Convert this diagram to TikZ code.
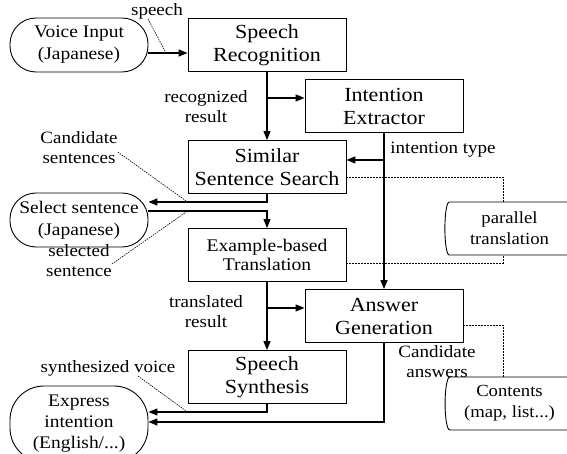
\documentclass[tikz,border=0pt]{standalone}
\usepackage{fontspec}
\setmainfont{Liberation Serif}[FakeStretch=1.1]
\usetikzlibrary{arrows.meta, positioning, shapes.geometric, calc}

\begin{document}
\begin{tikzpicture}[x=1pt, y=-1pt, node distance=1cm, on grid, >={Triangle[length=9pt,width=7pt]},
      proc/.style={draw, line width=0.9pt, minimum width=158pt, minimum height=53pt, inner sep=0pt,
        align=center, font=\fontsize{20}{23}\selectfont},
      term/.style={draw, line width=0.9pt, rounded corners=26pt, minimum width=138pt, minimum height=54pt,
        inner sep=0pt, align=center, font=\fontsize{17.7}{22}\selectfont},
      store/.style={draw, line width=0.9pt, cylinder, shape aspect=0.26, minimum width=53pt, minimum height=134pt,
        inner sep=0pt, align=center, font=\fontsize{17}{21}\selectfont},
      lbl/.style={align=center, inner sep=0pt, font=\fontsize{17.3}{20}\selectfont},
      flow/.style={->, line width=1.3pt},
      lead/.style={dash pattern=on 1.5pt off 1pt, line width=0.6pt},
      link/.style={dash pattern=on 2pt off 1pt, line width=0.7pt}]
      \useasboundingbox (0,0) rectangle (567,454);
      % main column
      \node[proc] (rec) at (267,45) {Speech\\Recognition};
      \node[proc] (ext) [below right=61pt and 117pt of rec] {Intention\\Extractor};
      \node[proc] (sim) [below=122pt of rec] {Similar\\Sentence Search};
      \node[proc, font=\fontsize{17.8}{19.5}\selectfont] (ebt) [below=88pt of sim] {Example-based\\Translation};
      \node[proc] (ans) [below right=61pt and 117pt of ebt] {Answer\\Generation};
      \node[proc] (syn) [below=122pt of ebt] {Speech\\Synthesis};
      % user side
      \node[term] (voice) [left=188pt of rec] {Voice Input\\(Japanese)};
      \node[term] (sel) at (79,220) {Select sentence\\(Japanese)};
      \node[term, rounded corners=34pt, minimum height=76pt, font=\fontsize{17.7}{21}\selectfont] (expr) at (79,424) {Express\\intention\\(English/...)};
      % data
      \node[store] (para) at (509.5,228.5) {parallel\\translation};
      \node[store] (cont) at (509.5,403.5) {Contents\\(map, list...)};
      % labels
      \node[lbl] (speechlbl) at (157,11) {speech};
      \node[lbl] (reclbl) at (206,107) {recognized\\result};
      \node[lbl] (intlbl) at (443,150) {intention type};
      \node[lbl] (candlbl) at (79,148) {Candidate\\sentences};
      \node[lbl] (sellbl) at (79,261) {selected\\sentence};
      \node[lbl] (trlbl) at (206,312) {translated\\result};
      \node[lbl] (synlbl) at (108,368) {synthesized voice};
      \node[lbl] (anslbl) at (437,362) {Candidate\\answers};

      \coordinate (sptap) at ($([yshift=-8pt]voice.east)!0.45!([yshift=-8pt]rec.west)$);
      \draw[flow] ([yshift=-8pt]voice.east) -- ([yshift=-8pt]rec.west);
      \draw[flow] (rec) -- (sim);
      \draw[flow] ([yshift=-26pt]rec.south) -- ([yshift=-26pt]rec.south -| ext.west);
      \draw[flow] (ext) -- (ans);
      \draw[flow] ([yshift=-27pt]ext.south) -- ([yshift=-27pt]ext.south -| sim.east);
      \draw[flow] (sim.south) |- ([yshift=18pt]sel.east);
      \draw[flow] ([yshift=9pt]sel.east) -| (ebt.north);
      \draw[flow] (ebt) -- (syn);
      \draw[flow] ([yshift=-26pt]ebt.south) -- ([yshift=-26pt]ebt.south -| ans.west);
      \draw[flow] (syn.south) |- ([yshift=12pt]expr.east);
      \draw[flow] (ans.south) |- ([yshift=2pt]expr.east);
      % database links
      \draw[link] ([yshift=-10pt]sim.east) -| ([xshift=-6.5pt]para.north);
      \draw[link] ([yshift=-8pt]ebt.east) -| ([xshift=-6.5pt]para.south);
      \draw[link] ([yshift=-9pt]ans.east) -| ([xshift=-6.5pt]cont.north);
      % label leaders
      \draw[lead] ([xshift=-9pt]speechlbl.south) -- (sptap);
      \draw[lead] ([yshift=-4pt]candlbl.east) -- ([yshift=18pt]sel.east -| sim.west);
      \draw[lead] ([yshift=-3pt]sellbl.east) -- ([yshift=9pt]sel.east -| sim.west);
      \draw[lead] ([xshift=30pt]synlbl.south) -- ([yshift=12pt]expr.east -| syn.west);
\end{tikzpicture}
\end{document}
